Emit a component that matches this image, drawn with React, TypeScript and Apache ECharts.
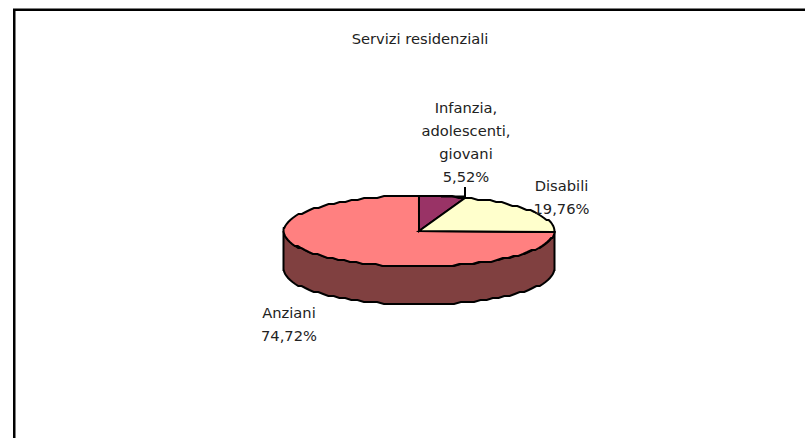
import React, { useEffect, useRef } from "react";
import * as echarts from "echarts";

const title = "Servizi residenziali";
const categories = ["Anziani", "Infanzia, adolescenti, giovani", "Disabili"];
const values = [74.72, 5.52, 19.76];
const labelLines = [["Anziani", "74,72%"], ["Infanzia,", "adolescenti,", "giovani", "5,52%"], ["Disabili", "19,76%"]];
const colors = ["#FF8080", "#993366", "#FFFFCC"];
const sideColors = ["#804040", "#4d1a33", "#808066"];

const FONT = "DejaVu Sans";
const FONT_SIZE = 14.7;
const CX = 419, CY = 231, RX = 135.5, RY = 35.5, DEPTH = 38;
const START = Math.PI / 180;
const labelPos = [[289, 312], [466, 107], [561.5, 185]];

function pt(a: number, dy = 0): number[] {
  return [CX + RX * Math.cos(a), Math.round((CY + RY * Math.sin(a)) / 2) * 2 + dy];
}
function arc(a0: number, a1: number, dy = 0): number[][] {
  const n = Math.max(2, Math.ceil(Math.abs(a1 - a0) / (Math.PI / 60)));
  const out: number[][] = [];
  for (let i = 0; i <= n; i++) out.push(pt(a0 + ((a1 - a0) * i) / n, dy));
  return out;
}

export default function App() {
  const ref = useRef<HTMLDivElement>(null);
  useEffect(() => {
    document.body.style.margin = "0";
    const chart = echarts.init(ref.current!, null, { renderer: "svg" });
    const total = values.reduce((s, v) => s + v, 0);
    const renderItem = (params: any, api: any) => {
      const i = params.dataIndex;
      const before = values.slice(0, i).reduce((s, v) => s + v, 0);
      const a0 = START + (before / total) * Math.PI * 2;
      const a1 = START + ((before + api.value(0)) / total) * Math.PI * 2;
      const children: any[] = [];
      const s0 = i === 0 ? 0 : Math.max(a0, 0);
      const s1 = Math.min(a1, Math.PI);
      if (s1 > s0) {
        const top = arc(s0, s1);
        const bottom = arc(s1, s0, DEPTH);
        children.push({
          type: "polygon",
          shape: { points: [...top, ...bottom] },
          style: { fill: sideColors[i], stroke: "#000", lineWidth: 2 },
        });
      }
      children.push({
        type: "polygon",
        shape: { points: [[CX, CY], ...arc(a0, a1)] },
        style: { fill: colors[i], stroke: "#000", lineWidth: 2 },
      });
      if (i === 1) {
        children.push({
          type: "polyline",
          shape: { points: [[441, 196.5], [465, 196.5], [465, 187]] },
          style: { fill: "none", stroke: "#000", lineWidth: 2 },
        });
      }
      labelLines[i].forEach((line, k) => {
        children.push({
          type: "text",
          style: {
            text: line,
            x: labelPos[i][0],
            y: labelPos[i][1] + k * 23,
            fill: "#222",
            font: `${FONT_SIZE}px "${FONT}"`,
            align: "center",
            verticalAlign: "middle",
          },
        });
      });
      return { type: "group", children };
    };
    chart.setOption({
      animation: false,
      backgroundColor: "#fff",
      title: {
        text: title,
        left: 415,
        top: 33,
        textAlign: "center",
        textVerticalAlign: "middle",
        textStyle: { fontFamily: FONT, fontSize: FONT_SIZE, fontWeight: "normal", color: "#222" },
      },
      graphic: [
        {
          type: "polyline",
          shape: { points: [[14.25, 438], [14.25, 9.75], [805, 9.75]] },
          style: { fill: "none", stroke: "#000", lineWidth: 2.5 },
        },
      ],
      series: [
        {
          type: "custom",
          coordinateSystem: "none",
          renderItem,
          data: categories.map((name, i) => ({ name, value: [values[i]] })),
        },
      ],
    });
    return () => chart.dispose();
  }, []);
  return <div ref={ref} style={{ width: 805, height: 438 }} />;
}
